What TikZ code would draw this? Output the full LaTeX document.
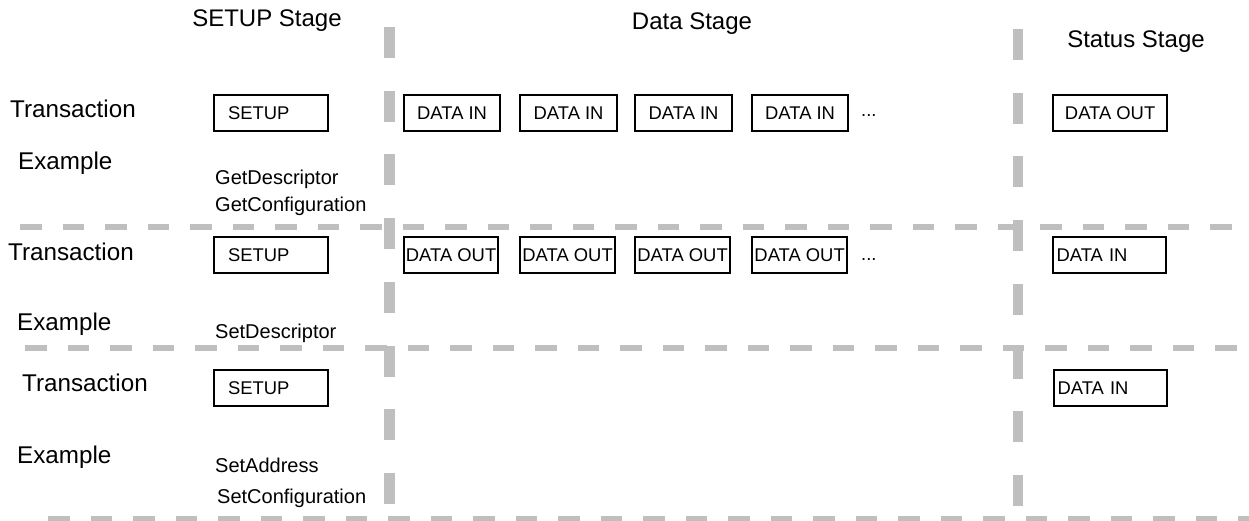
\documentclass[tikz,border=0pt]{standalone}
\usepackage{fontspec}
\setmainfont{Liberation Sans}
\definecolor{divgray}{RGB}{191,191,191}
\tikzset{
  lbl/.style={anchor=base west, inner sep=0pt, font=\fontsize{24.2}{28}\selectfont},
  sub/.style={anchor=base west, inner sep=0pt, font=\fontsize{20}{24}\selectfont},
  head/.style={anchor=base, inner sep=0pt, font=\fontsize{24}{28}\selectfont},
  txbox/.style={draw, line width=2.2pt, anchor=north west, minimum height=36pt, inner sep=0pt, font=\fontsize{18.4}{21}\selectfont},
  vdiv/.style={divgray, line width=10.5pt, dash pattern=on 31pt off 32.7pt},
  hdiv/.style={divgray, line width=5.5pt, dash pattern=on 21.5pt off 21pt},
}

\begin{document}
\begin{tikzpicture}[x=1pt, y=-1pt]
\useasboundingbox (0,0) rectangle (1249,521);

% stage dividers
\draw[vdiv] (389.5, 27) coordinate (v1top) -- (389.5, 506) coordinate (v1bot);
\draw[vdiv] (1018, 29) coordinate (v2top) -- (1018, 507) coordinate (v2bot);
\draw[hdiv] (20, 227) coordinate (h1l) -- (1249, 227) coordinate (h1r);
\draw[hdiv] (25, 348) coordinate (h2l) -- (1249, 348) coordinate (h2r);
\draw[hdiv] (48, 519) coordinate (h3l) -- (1249, 519) coordinate (h3r);

% headers
\node[head] (hsetup) at (267, 27) {SETUP Stage};
\node[head] (hdata) at (692, 30) {Data Stage};
\node[head] (hstatus) at (1136, 48) {Status Stage};

% first request
\node[lbl] (tr1) at (10, 118) {Transaction};
\node[lbl] (ex1) at (18, 170) {Example};
\node[sub] (gdesc) at (215, 185) {GetDescriptor};
\node[sub] (gconf) at (215, 212) {GetConfiguration};
\node[txbox, text width=86pt, inner xsep=14pt, align=left] (su1) at (213, 94) {SETUP};
\node[txbox, minimum width=96pt] (din1) at (403, 94) {DATA IN};
\node[txbox, minimum width=97pt] (din2) at (519, 94) {DATA IN};
\node[txbox, minimum width=97pt] (din3) at (634, 94) {DATA IN};
\node[txbox, minimum width=96pt] (din4) at (751, 94) {DATA IN};
\node[anchor=base west, inner sep=0pt, font=\fontsize{18.4}{21}\selectfont] (more1) at (861, 117) {...};
\node[txbox, minimum width=114pt] (stout1) at (1052, 94) {DATA OUT};

% second request
\node[lbl] (tr2) at (8, 260) {Transaction};
\node[lbl] (ex2) at (17, 330) {Example};
\node[sub] (sdesc) at (215, 338) {SetDescriptor};
\node[txbox, text width=86pt, inner xsep=14pt, align=left] (su2) at (213, 236) {SETUP};
\node[txbox, minimum width=94pt] (dout1) at (403, 236) {DATA OUT};
\node[txbox, minimum width=95pt] (dout2) at (519, 236) {DATA OUT};
\node[txbox, minimum width=95pt] (dout3) at (634, 236) {DATA OUT};
\node[txbox, minimum width=95pt] (dout4) at (751, 236) {DATA OUT};
\node[anchor=base west, inner sep=0pt, font=\fontsize{18.4}{21}\selectfont] (more2) at (861, 260) {...};
\node[txbox, text width=106pt, inner xsep=3.5pt, align=left] (stin2) at (1052, 236) {DATA IN};

% third request
\node[lbl] (tr3) at (22, 391) {Transaction};
\node[lbl] (ex3) at (17, 463) {Example};
\node[sub] (saddr) at (215, 472) {SetAddress};
\node[sub] (sconf) at (217, 503) {SetConfiguration};
\node[txbox, text width=86pt, inner xsep=14pt, align=left] (su3) at (213, 369) {SETUP};
\node[txbox, text width=106pt, inner xsep=3.5pt, align=left] (stin3) at (1053, 369) {DATA IN};
\end{tikzpicture}
\end{document}
